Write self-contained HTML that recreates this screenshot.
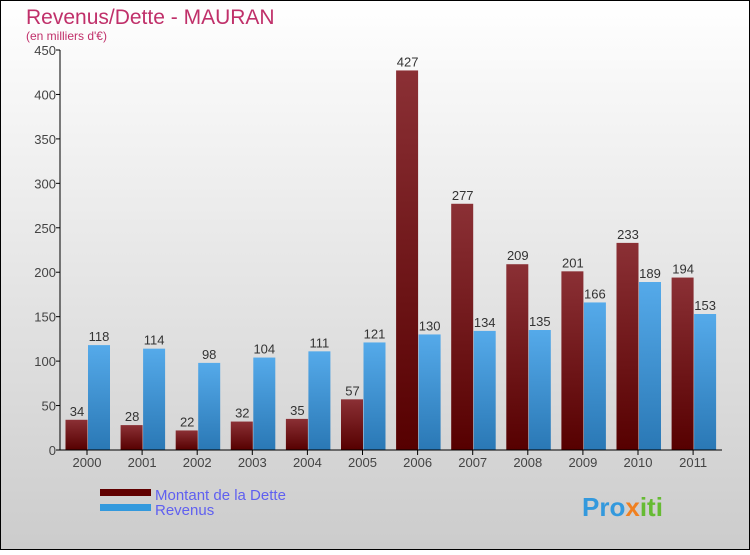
<!DOCTYPE html>
<html><head><meta charset="utf-8"><style>
body{margin:0}
svg text{font-family:"Liberation Sans",sans-serif}
</style></head><body>
<svg id="c" width="750" height="550" xmlns="http://www.w3.org/2000/svg">
<defs>
<linearGradient id="bg" x1="0" y1="0" x2="0" y2="1"><stop offset="0" stop-color="#ffffff"/><stop offset="1" stop-color="#cccccc"/></linearGradient>
<linearGradient id="gd" x1="0" y1="0" x2="0" y2="1"><stop offset="0" stop-color="#8b3035"/><stop offset="1" stop-color="#560000"/></linearGradient>
<linearGradient id="gr" x1="0" y1="0" x2="0" y2="1"><stop offset="0" stop-color="#55aaea"/><stop offset="1" stop-color="#2a78b5"/></linearGradient>
</defs>
<rect x="0.5" y="0.5" width="749" height="549" fill="url(#bg)" stroke="#000"/>
<text x="26" y="24" font-size="21" fill="#c0306a">Revenus/Dette - MAURAN</text>
<text x="26" y="40" font-size="12" fill="#c0306a">(en milliers d'€)</text>
<g id="plot"></g>
<rect x="100" y="489" width="51" height="7" fill="#600000"/>
<text x="155" y="500" font-size="15" fill="#6060f0">Montant de la Dette</text>
<rect x="100" y="504" width="51" height="7" fill="#3399dd"/>
<text x="155" y="515" font-size="15" fill="#6060f0">Revenus</text>
<text x="582" y="516" font-size="26" font-weight="bold" fill="#3399dd">Pro<tspan fill="#f08020">x</tspan><tspan fill="#66bb33">iti</tspan></text>
</svg>
<script>
const years=["2000","2001","2002","2003","2004","2005","2006","2007","2008","2009","2010","2011"];
const dette=[34,28,22,32,35,57,427,277,209,201,233,194];
const revenus=[118,114,98,104,111,121,130,134,135,166,189,153];
const yTicks=[0,50,100,150,200,250,300,350,400,450];
const NS="http://www.w3.org/2000/svg";
const g=document.getElementById('plot');
const y=v=>450-v*400/450;
const x=i=>87+i*55.1;
function mk(t,a){const e=document.createElementNS(NS,t);for(const k in a)e.setAttribute(k,a[k]);g.appendChild(e);return e;}
yTicks.forEach(v=>{
 const l=mk('line',{x1:56,x2:60,y1:y(v),y2:y(v),stroke:'#000'});
 
 
 const t=mk('text',{x:56,y:y(v)+5,'font-size':13,fill:'#444','text-anchor':'end'});t.textContent=v;
 
 
});
years.forEach((yr,i)=>{
 const b1=mk('rect',{x:x(i)-21.5,y:y(dette[i]),width:22,height:450-y(dette[i]),fill:'url(#gd)'});
 
 
 const b2=mk('rect',{x:x(i)+1,y:y(revenus[i]),width:22,height:450-y(revenus[i]),fill:'url(#gr)'});
 
 
 const t1=mk('text',{x:x(i)-10,y:y(dette[i])-4,'font-size':13,fill:'#333','text-anchor':'middle'});t1.textContent=dette[i];
 
 
 const t2=mk('text',{x:x(i)+12,y:y(revenus[i])-4,'font-size':13,fill:'#333','text-anchor':'middle'});t2.textContent=revenus[i];
 
 
 const tk=mk('line',{x1:x(i),x2:x(i),y1:450,y2:455,stroke:'#000'});
 
 
 const xl=mk('text',{x:x(i),y:467,'font-size':13,fill:'#444','text-anchor':'middle'});xl.textContent=yr;
 
 
});
const ya=mk('line',{x1:60,x2:60,y1:50,y2:450,stroke:'#000'});


const xa=mk('line',{x1:60,x2:722,y1:450,y2:450,stroke:'#000'});


</script>
</body></html>
